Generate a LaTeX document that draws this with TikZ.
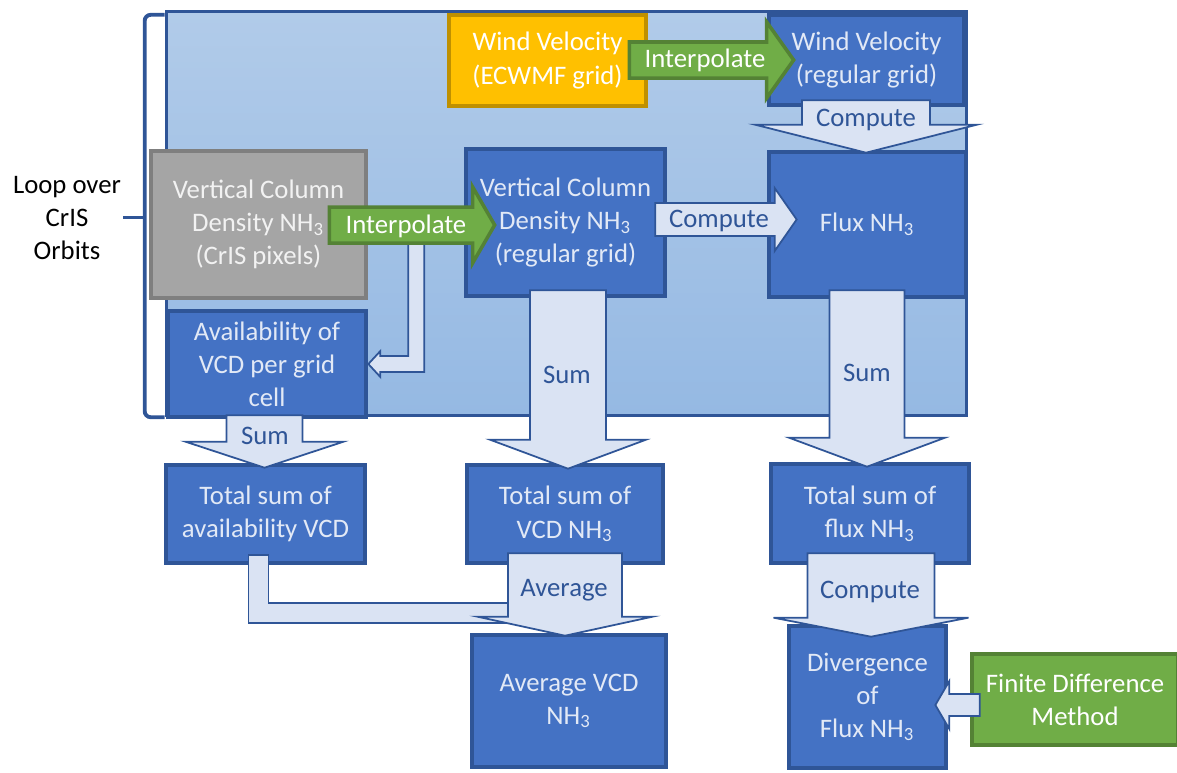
\documentclass[tikz,border=0pt]{standalone}
\usepackage{fontspec}
\setmainfont{Carlito}
\usetikzlibrary{calc}

\definecolor{boxblue}{HTML}{4472C4}
\definecolor{edgeblue}{HTML}{2F5597}
\definecolor{paleblue}{HTML}{DAE3F3}
\definecolor{boxtext}{HTML}{E2E9F6}
\definecolor{loopTop}{HTML}{B1CBE9}
\definecolor{loopBot}{HTML}{95B9E3}
\definecolor{gold}{HTML}{FFC000}
\definecolor{goldEdge}{HTML}{BF9000}
\definecolor{greyFill}{HTML}{A5A5A5}
\definecolor{greyEdge}{HTML}{7F7F7F}
\definecolor{leaf}{HTML}{70AD47}
\definecolor{leafEdge}{HTML}{548235}

% block arrows: style, start, tip, shaft half width, head half width, head length
\newcommand{\blockdown}[6]{%
  \path (#2 -| #3) coordinate (bstart);
  \draw[#1] ($(bstart)+(-#4,0)$) -- ($(#3)+(-#4,-#6)$) -- ($(#3)+(-#5,-#6)$) -- (#3)
    -- ($(#3)+(#5,-#6)$) -- ($(#3)+(#4,-#6)$) -- ($(bstart)+(#4,0)$) -- cycle;}
\newcommand{\blockright}[6]{%
  \path (#2 |- #3) coordinate (bstart);
  \draw[#1] ($(bstart)+(0,-#4)$) -- ($(#3)+(-#6,-#4)$) -- ($(#3)+(-#6,-#5)$) -- (#3)
    -- ($(#3)+(-#6,#5)$) -- ($(#3)+(-#6,#4)$) -- ($(bstart)+(0,#4)$) -- cycle;}
\newcommand{\blockleft}[6]{%
  \path (#2 |- #3) coordinate (bstart);
  \draw[#1] ($(bstart)+(0,-#4)$) -- ($(#3)+(#6,-#4)$) -- ($(#3)+(#6,-#5)$) -- (#3)
    -- ($(#3)+(#6,#5)$) -- ($(#3)+(#6,#4)$) -- ($(bstart)+(0,#4)$) -- cycle;}

\begin{document}
\begin{tikzpicture}[x=0.01cm, y=-0.01cm,
    txt/.style={font={\fontsize{7.6}{9.4}\selectfont}, align=center, inner sep=0pt},
    box/.style={txt, draw=edgeblue, fill=boxblue, text=boxtext, line width=1.3pt},
    goldbox/.style={txt, draw=goldEdge, fill=gold, text=white, line width=1.3pt},
    greybox/.style={txt, draw=greyEdge, fill=greyFill, text=white!95!black, line width=1.3pt},
    leafbox/.style={txt, draw=leafEdge, fill=leaf, text=white, line width=1.3pt},
    pale/.style={draw=edgeblue, fill=paleblue, line width=0.5pt},
    leafarrow/.style={draw=leafEdge, fill=leaf, line width=1pt},
    paletext/.style={txt, text=edgeblue},
    leaftext/.style={txt, text=white}]
  \clip (0,0) rectangle (1177,772);

  % loop over orbits
  \node[draw=edgeblue, line width=0.9pt, top color=loopTop, bottom color=loopBot,
        minimum width=8.0cm, minimum height=4.04cm, inner sep=0pt] (loop) at (566.5,213.5) {};
  \draw[edgeblue, line width=1.1pt, rounded corners=0.06cm]
    ($(loop.north west)+(0,5)$) -- ++(-20,0) -- ($(loop.south west)+(-20,0)$) -- (loop.south west);
  \draw[edgeblue, line width=1.1pt] ($(loop.west)+(-20,4)$) -- ++(-22,0);
  \node[txt] (loopLbl) at (67,218) {Loop over\\CrIS\\Orbits};

  % boxes
  \node[goldbox, minimum width=1.97cm, minimum height=0.91cm] (windE) at (547.5,60.5) {Wind Velocity\\(ECWMF grid)};
  \node[box, minimum width=1.95cm, minimum height=0.90cm] (windR) at (866.5,60) {Wind Velocity\\(regular grid)};
  \node[greybox, minimum width=2.15cm, minimum height=1.47cm] (vcdP) at (258.5,224.5) {Vertical Column\\Density NH\textsubscript{3}\\(CrIS pixels)};
  \node[box, minimum width=1.99cm, minimum height=1.47cm] (vcdR) at (565.5,222.5) {Vertical Column\\Density NH\textsubscript{3}\\(regular grid)};
  \node[box, minimum width=1.97cm, minimum height=1.45cm] (flux) at (867.5,224.5) {Flux NH\textsubscript{3}};
  \node[box, minimum width=1.98cm, minimum height=1.06cm] (avail) at (267,364) {Availability of\\VCD per grid\\cell};
  \node[box, minimum width=1.99cm, minimum height=0.98cm] (totA) at (265.5,514) {Total sum of\\availability VCD};
  \node[box, minimum width=1.96cm, minimum height=0.98cm] (totV) at (565,514) {Total sum of\\VCD NH\textsubscript{3}};
  \node[box, minimum width=1.98cm, minimum height=0.99cm] (totF) at (870,513.5) {Total sum of\\flux NH\textsubscript{3}};
  \node[box, minimum width=1.94cm, minimum height=1.32cm] (avg) at (569,701) {Average VCD\\NH\textsubscript{3}};
  \node[box, minimum width=1.57cm, minimum height=1.42cm] (div) at (867.5,697) {Divergence\\of\\Flux NH\textsubscript{3}};
  \node[leafbox, minimum width=2.06cm, minimum height=0.91cm] (fdm) at (1075,699.5) {Finite Difference\\Method};

  % arrow ends
  \coordinate (iTopS) at ($(windE.east)+(-19,0)$);
  \coordinate (iTopT) at ($(windR.west)+(27,0)$);
  \coordinate (cTopS) at ($(windR.south)+(0,-7)$);
  \coordinate (cTopT) at ($(flux.north)+(-1.5,3)$);
  \coordinate (iMidS) at ($(vcdP.east)+(-39,0)$);
  \coordinate (iMidT) at ($(vcdR.west)+(31,2.5)$);
  \coordinate (cMidS) at ($(vcdR.east)+(-12,0)$);
  \coordinate (cMidT) at ($(flux.west)+(30,-5)$);
  \coordinate (e1a) at ($(vcdP.east)+(48,18)$);
  \coordinate (e1b) at (e1a |- avail.east);
  \coordinate (sumAS) at ($(avail.south)+(-2,-4)$);
  \coordinate (sumAT) at ($(totA.north)+(-1,5)$);
  \coordinate (sumVS) at ($(vcdR.south)+(1.5,-8)$);
  \coordinate (sumVT) at ($(totV.north)+(3,6)$);
  \coordinate (sumFS) at ($(flux.south)+(-0.5,-9)$);
  \coordinate (sumFT) at ($(totF.north)+(-3,5)$);
  \coordinate (e2a) at ($(totA.south)+(-7,-10)$);
  \coordinate (e2c) at ($(avg.north)+(-9,-20)$);
  \coordinate (e2b) at (e2a |- e2c);
  \coordinate (avgS) at ($(totV.south)+(0,-12)$);
  \coordinate (avgT) at ($(avg.north)+(-4,3)$);
  \coordinate (cLowS) at ($(totF.south)+(1,-12)$);
  \coordinate (cLowT) at ($(div.north)+(3.5,13)$);
  \coordinate (fdmS) at ($(fdm.west)+(10,5.5)$);
  \coordinate (fdmT) at ($(div.east)+(-13,8)$);

  % arrows
  \blockright{leafarrow}{iTopS}{iTopT}{18}{38}{27}
  \node[leaftext] (iTop) at (705,60) {Interpolate};
  \blockdown{pale}{cTopS}{cTopT}{64}{111}{28}
  \node[paletext] (cTop) at (866,120) {Compute};

  \draw[pale] ($(e1a)+(-8,0)$) -- ($(e1b)+(-8,-8)$) -- ($(avail.east)+(12,-8)$) -- ($(avail.east)+(12,-13)$)
    -- (avail.east) -- ($(avail.east)+(12,13)$) -- ($(avail.east)+(12,8)$) -- ($(e1b)+(8,8)$)
    -- ($(e1a)+(8,0)$) -- cycle;
  \blockright{leafarrow}{iMidS}{iMidT}{18}{38}{22}
  \node[leaftext] (iMid) at (406,226) {Interpolate};
  \blockright{pale}{cMidS}{cMidT}{16.5}{31.5}{22}
  \node[paletext] (cMid) at (719,221) {Compute};

  \blockdown{pale}{sumAS}{sumAT}{38}{79}{26}
  \node[paletext] (sumA) at (265,436) {Sum};
  \blockdown{pale}{sumVS}{sumVT}{38}{78}{29}
  \node[paletext] (sumV) at (567,375) {Sum};
  \blockdown{pale}{sumFS}{sumFT}{37.5}{78}{29}
  \node[paletext] (sumF) at (867,373) {Sum};

  \draw[pale] ($(e2a)+(-10,0)$) -- ($(e2b)+(-10,10)$) -- ($(e2c)+(0,10)$) -- ($(e2c)+(0,-10)$)
    -- ($(e2b)+(10,-10)$) -- ($(e2a)+(10,0)$) -- cycle;
  \blockdown{pale}{avgS}{avgT}{57}{87.5}{19}
  \node[paletext] (avgL) at (564,590) {Average};
  \blockdown{pale}{cLowS}{cLowT}{63.5}{97.5}{19}
  \node[paletext] (cLow) at (870,592) {Compute};
  \blockleft{pale}{fdmS}{fdmT}{11}{24}{14}
\end{tikzpicture}
\end{document}
